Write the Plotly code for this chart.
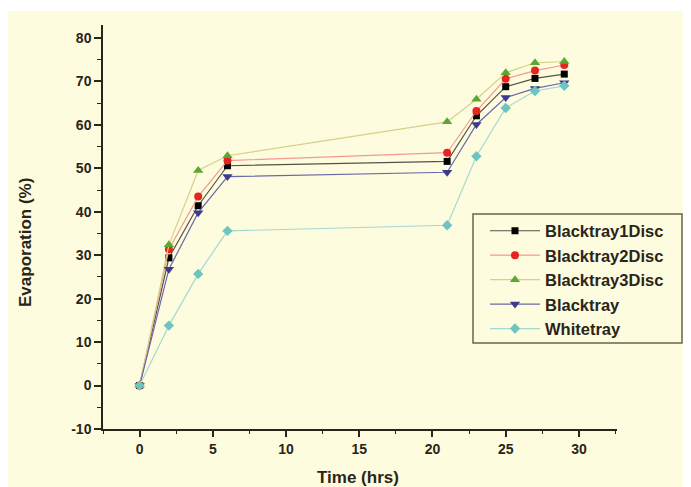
import plotly.graph_objects as go

time_hrs = [0, 2, 4, 6, 21, 23, 25, 27, 29]
blacktray1disc = [0, 29.4, 41.4, 50.6, 51.6, 62.1, 68.8, 70.7, 71.7]
blacktray2disc = [0, 31.4, 43.5, 51.8, 53.6, 63.2, 70.6, 72.5, 73.8]
blacktray3disc = [0, 32.4, 49.5, 52.9, 60.7, 65.9, 72.0, 74.3, 74.6]
blacktray = [0, 26.8, 39.8, 48.1, 49.1, 60.1, 66.3, 68.4, 69.7]
whitetray = [0, 13.8, 25.7, 35.6, 36.9, 52.8, 63.9, 67.8, 69.0]

x_ticks = [0, 5, 10, 15, 20, 25, 30]
y_ticks = [-10, 0, 10, 20, 30, 40, 50, 60, 70, 80]
x_title = "Time (hrs)"
y_title = "Evaporation (%)"

CREAM = "#FEFCDE"
INK = "#2a2519"
FONT = "Liberation Sans, Arial, sans-serif"

series = [
    ("Blacktray1Disc", blacktray1disc, "square", "#000000", "#55524a", 7),
    ("Blacktray2Disc", blacktray2disc, "circle", "#e52620", "#f29a8e", 8),
    ("Blacktray3Disc", blacktray3disc, "triangle-up", "#5aa832", "#d6d08a", 9),
    ("Blacktray", blacktray, "triangle-down", "#3c3a8c", "#6a68a8", 9),
    ("Whitetray", whitetray, "diamond", "#6cc6c0", "#a6d8d2", 8),
]

fig = go.Figure()
for name, vals, sym, mcol, lcol, msize in series:
    fig.add_trace(go.Scatter(
        x=time_hrs, y=vals, name=name, mode="lines+markers",
        line=dict(color=lcol, width=1.2),
        marker=dict(symbol=sym, color=mcol, size=msize, line=dict(width=0)),
    ))

# the page body adds an 8px offset; the figure is sized to fill the rest
W, H = 683, 479
L, R, T, B = 95, 74, 17, 58
pw, ph = W - L - R, H - T - B


def px(xf):
    return (xf - L) / pw


def py(yf):
    return 1 - (yf - T) / ph


fig.add_shape(type="rect", xref="paper", yref="paper", layer="below",
              x0=px(-5), x1=px(W + 5), y0=py(H + 5), y1=py(3),
              fillcolor=CREAM, line=dict(width=0))
# legend frame
fig.add_shape(type="rect", xref="paper", yref="paper", layer="above",
              x0=px(465), x1=px(674), y0=py(335), y1=py(206),
              fillcolor="rgba(0,0,0,0)", line=dict(color="#6b6350", width=1.5))

fig.add_annotation(text=y_title, xref="paper", yref="paper",
                   x=px(17), y=py(235), textangle=-90,
                   xanchor="center", yanchor="middle", showarrow=False,
                   font=dict(family=FONT, size=17, weight="bold", color=INK))
fig.add_annotation(text=x_title, xref="paper", yref="paper",
                   x=px(350), y=py(469),
                   xanchor="center", yanchor="middle", showarrow=False,
                   font=dict(family=FONT, size=17, weight="bold", color=INK))

fig.update_layout(
    width=W, height=H,
    margin=dict(l=L, r=R, t=T, b=B, autoexpand=False),
    paper_bgcolor="white", plot_bgcolor=CREAM,
    font=dict(family=FONT, color=INK),
    showlegend=True,
    legend=dict(
        x=px(477), y=py(205.5), xanchor="left", yanchor="top",
        bgcolor="rgba(0,0,0,0)", borderwidth=0,
        font=dict(family=FONT, size=16.5, color=INK, weight="bold"),
        itemwidth=50,
    ),
    xaxis=dict(
        range=[-2.5, 32.6], tickvals=x_ticks, ticktext=[str(v) for v in x_ticks],
        ticks="outside", ticklen=6, tickwidth=1.5, automargin=False,
        tickcolor=INK, showline=True, linecolor=INK, linewidth=1.5, showgrid=False,
        zeroline=False, tickfont=dict(size=14, weight="bold", color=INK),
        minor=dict(dtick=2.5, ticks="outside", ticklen=3, tickwidth=1.2, tickcolor=INK, showgrid=False),
    ),
    yaxis=dict(
        range=[-10, 83], tickvals=y_ticks, ticktext=[str(v) for v in y_ticks],
        ticks="outside", ticklen=7, tickwidth=1.5, automargin=False,
        tickcolor=INK, showline=True, linecolor=INK, linewidth=1.5, showgrid=False,
        zeroline=False, tickfont=dict(size=14, weight="bold", color=INK),
        minor=dict(dtick=5, ticks="outside", ticklen=4, tickwidth=1.2, tickcolor=INK, showgrid=False),
    ),
)

fig.write_html("out.html")
